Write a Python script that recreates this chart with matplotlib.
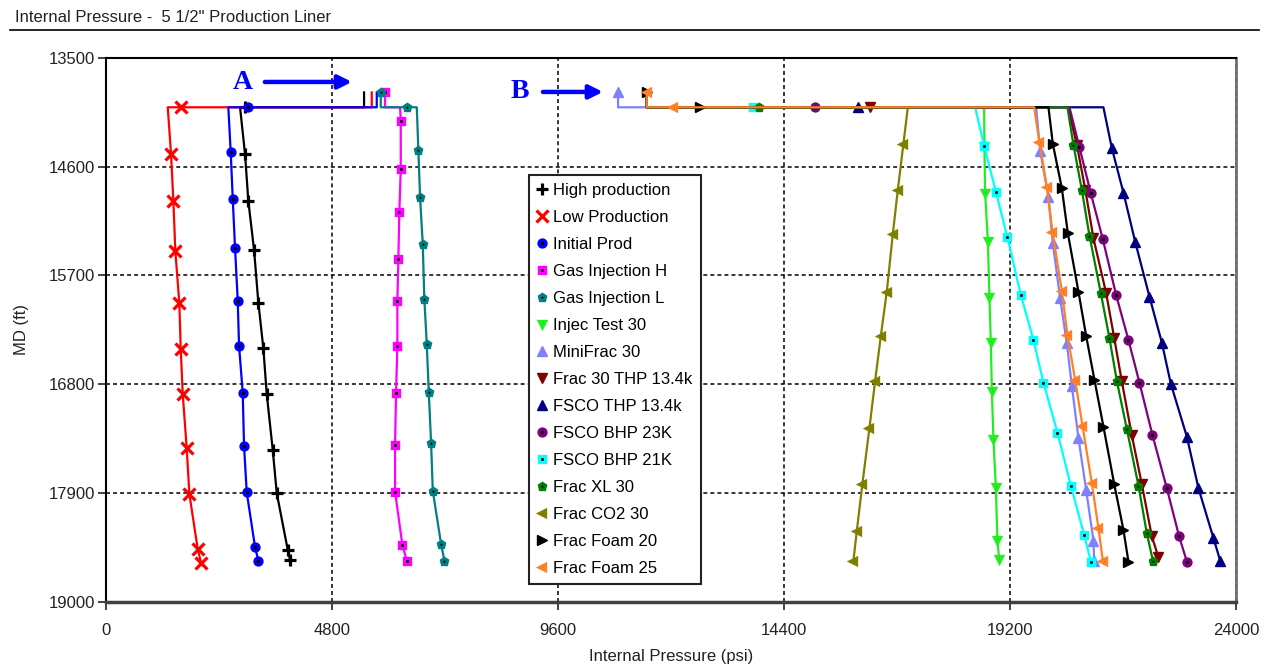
import matplotlib.pyplot as plt
from matplotlib.lines import Line2D

plt.rcParams['font.family'] = ['Liberation Sans', 'DejaVu Sans']

MD_TOP = 13850   # top of the liner, where every case starts
MD_STEP = 14000  # depth of the step to the case pressure

labels = ['High production', 'Low Production', 'Initial Prod', 'Gas Injection H',
          'Gas Injection L', 'Injec Test 30', 'MiniFrac 30', 'Frac 30 THP 13.4k',
          'FSCO THP 13.4k', 'FSCO BHP 23K', 'FSCO BHP 21K', 'Frac XL 30',
          'Frac CO2 30', 'Frac Foam 20', 'Frac Foam 25']

# pressure at the top, marker on the step (None = no marker), start of the curve
top_p = [5474, 5638, 5744, 5920, 5829, 11480, 10871, 11480, 11480, 11480,
         11480, 11480, 11481, 11480, 11481]
step_p = [2950, 1579, 3015, None, 6381, None, None, 16226, 15979, 15058,
          13747, 13874, None, 12614, 12047]
corner_p = [2839, 1303, 2590, 6239, 6594, 18649, 19754, 20430, 21184, 20462,
            18458, 20419, 17028, 20016, 19712]
top_marked = [False, False, False, True, True, False, True, False, False, False,
              False, False, False, True, True]

# marker points down the string (MD ft, psi)
high_md = [14472, 14947, 15442, 15974, 16435, 16897, 17463, 17900, 18473, 18574]
high_p = [2945, 3015, 3137, 3228, 3334, 3406, 3534, 3619, 3853, 3902]
low_md = [14472, 14944, 15452, 15980, 16442, 16897, 17445, 17907, 18466, 18601]
low_p = [1373, 1422, 1464, 1549, 1579, 1621, 1706, 1762, 1940, 2010]
init_md = [14454, 14926, 15424, 15954, 16412, 16884, 17422, 17890, 18446, 18581]
init_p = [2641, 2684, 2733, 2790, 2818, 2896, 2924, 2981, 3158, 3228]
gash_md = [14135, 14626, 15058, 15533, 15954, 16409, 16884, 17412, 17884, 18423, 18581]
gash_p = [6254, 6254, 6224, 6203, 6182, 6182, 6154, 6133, 6133, 6288, 6381]
gasl_md = [14431, 14909, 15381, 15940, 16391, 16873, 17389, 17874, 18412, 18581]
gasl_p = [6628, 6664, 6721, 6755, 6806, 6849, 6898, 6934, 7110, 7180]
injec_md = [14390, 14869, 15348, 15920, 16368, 16863, 17354, 17839, 18372, 18567]
injec_p = [18655, 18670, 18728, 18762, 18791, 18813, 18847, 18898, 18931, 18968]
mini_md = [14438, 14903, 15374, 15930, 16384, 16816, 17344, 17867, 18379, 18581]
mini_p = [19839, 20015, 20109, 20264, 20406, 20513, 20653, 20817, 20972, 20987]
frac30_md = [14380, 14835, 15324, 15879, 16328, 16770, 17315, 17810, 18338, 18547]
frac30_p = [20620, 20800, 20972, 21242, 21412, 21575, 21787, 22000, 22213, 22353]
fscot_md = [14414, 14863, 15358, 15914, 16378, 16795, 17328, 17850, 18355, 18581]
fscot_p = [21363, 21609, 21858, 22162, 22425, 22616, 22956, 23203, 23522, 23664]
fsco23_md = [14404, 14869, 15334, 15897, 16351, 16782, 17311, 17850, 18338, 18591]
fsco23_p = [20674, 20916, 21171, 21454, 21715, 21949, 22225, 22531, 22793, 22956]
fsco21_md = [14387, 14853, 15314, 15897, 16351, 16782, 17288, 17823, 18321, 18591]
fsco21_p = [18649, 18898, 19144, 19429, 19697, 19909, 20207, 20491, 20774, 20916]
xl_md = [14380, 14835, 15297, 15879, 16334, 16766, 17254, 17823, 18305, 18581]
xl_p = [20547, 20725, 20887, 21129, 21312, 21469, 21682, 21928, 22106, 22234]
co2_md = [14370, 14835, 15280, 15863, 16311, 16766, 17243, 17805, 18281, 18581]
co2_p = [16934, 16815, 16709, 16581, 16454, 16333, 16212, 16063, 15944, 15872]
foam20_md = [14370, 14818, 15273, 15863, 16311, 16755, 17227, 17806, 18271, 18591]
foam20_p = [20109, 20300, 20428, 20653, 20817, 20993, 21184, 21412, 21609, 21715]
foam25_md = [14354, 14802, 15257, 15853, 16300, 16755, 17217, 17799, 18254, 18581]
foam25_p = [19824, 19981, 20100, 20300, 20419, 20583, 20738, 20938, 21078, 21171]

series_md = [high_md, low_md, init_md, gash_md, gasl_md, injec_md, mini_md, frac30_md,
             fscot_md, fsco23_md, fsco21_md, xl_md, co2_md, foam20_md, foam25_md]
series_p = [high_p, low_p, init_p, gash_p, gasl_p, injec_p, mini_p, frac30_p,
            fscot_p, fsco23_p, fsco21_p, xl_p, co2_p, foam20_p, foam25_p]

x_ticks = [0, 4800, 9600, 14400, 19200, 24000]
y_ticks = [13500, 14600, 15700, 16800, 17900, 19000]

# styles
colors = ['#000000', '#FF0000', '#0000FF', '#FF00FF', '#008080', '#22EE22', '#8080FF',
          '#800000', '#000080', '#800080', '#00FFFF', '#007F00', '#808000', '#000000',
          '#FF8027']
marks = ['+', 'x', 'o', 's', 'p', 'v', '^', 'v', '^', 'o', 's', 'p', '<', '>', '<']
dotted = [False, False, True, True, True, True, False, False, False, True, True, True,
          True, False, True]

fig = plt.figure(figsize=(12.7, 6.66), dpi=100)
ax = fig.add_axes([0.0838, 0.0961, 0.8894, 0.8171])

handles = []
for i, name in enumerate(labels):
    p = [top_p[i], top_p[i]]
    md = [MD_TOP, MD_STEP]
    every = [0] if top_marked[i] else []
    if step_p[i] is not None:
        every.append(len(p))
        p.append(step_p[i])
        md.append(MD_STEP)
    p.append(corner_p[i])
    md.append(MD_STEP)
    every += list(range(len(p), len(p) + len(series_p[i])))
    p += series_p[i]
    md += series_md[i]

    style = dict(marker=marks[i], color=colors[i], mec=colors[i])
    if marks[i] in ('+', 'x'):
        style.update(ms=8.5, mew=2.3)
    elif dotted[i]:
        style.update(ms=5.0, mew=2.4, mfc='k')
    else:
        style.update(ms=7.5, mew=1.0, mfc=colors[i])
    ax.plot(p, md, lw=1.6, markevery=every, zorder=3 + i, **style)
    handles.append(Line2D([], [], linestyle='none', label=name, **style))

ax.set_xlim(0, 24000)
ax.set_ylim(19000, 13500)
ax.set_xticks(x_ticks)
ax.set_yticks(y_ticks)
ax.tick_params(labelsize=12, length=6, width=1.2, colors='#222222')
ax.tick_params(axis='x', pad=9)
ax.tick_params(axis='y', pad=2)
ax.grid(True, color='k', linestyle=(0, (2.6, 2.0)), linewidth=1.1)
ax.set_axisbelow(True)
for side in ('left', 'top'):
    ax.spines[side].set_color('k')
    ax.spines[side].set_linewidth(1.5)
ax.spines['right'].set_color('#707070')
ax.spines['right'].set_linewidth(2)
ax.spines['bottom'].set_color('#404040')
ax.spines['bottom'].set_linewidth(2.5)

ax.set_xlabel('Internal Pressure (psi)', fontsize=12, color='#222222', labelpad=8)
ax.set_ylabel('MD (ft)', fontsize=12, color='#222222', labelpad=14)

leg = ax.legend(handles=handles, loc='upper left', bbox_to_anchor=(0.374, 0.785),
                borderaxespad=0, fontsize=12, handlelength=0.6, handletextpad=0.35,
                labelspacing=0.72, borderpad=0.5, fancybox=False, framealpha=1)
leg.get_frame().set_edgecolor('#222222')
leg.get_frame().set_linewidth(1.5)
leg.set_zorder(30)

# A / B callouts
arrow = dict(arrowstyle='-|>', color='#0000FF', lw=3.2, mutation_scale=20,
             shrinkA=0, shrinkB=0)
ax.text(2903, 13754, 'A', color='#0000FF', fontsize=20, fontweight='bold',
        family='Liberation Serif', ha='center', va='center', zorder=40)
ax.annotate('', xy=(5217, 13744), xytext=(3366, 13744), arrowprops=arrow, zorder=40)
ax.text(8785, 13845, 'B', color='#0000FF', fontsize=20, fontweight='bold',
        family='Liberation Serif', ha='center', va='center', zorder=40)
ax.annotate('', xy=(10550, 13845), xytext=(9275, 13845), arrowprops=arrow, zorder=40)

fig.text(0.012, 0.973, 'Internal Pressure -  5 1/2" Production Liner', fontsize=12,
         color='#222222', ha='left', va='center')
fig.add_artist(Line2D([0.008, 0.991], [0.955, 0.955], color='k', lw=1.2,
                      transform=fig.transFigure))

fig.savefig('out.png', dpi=100)
